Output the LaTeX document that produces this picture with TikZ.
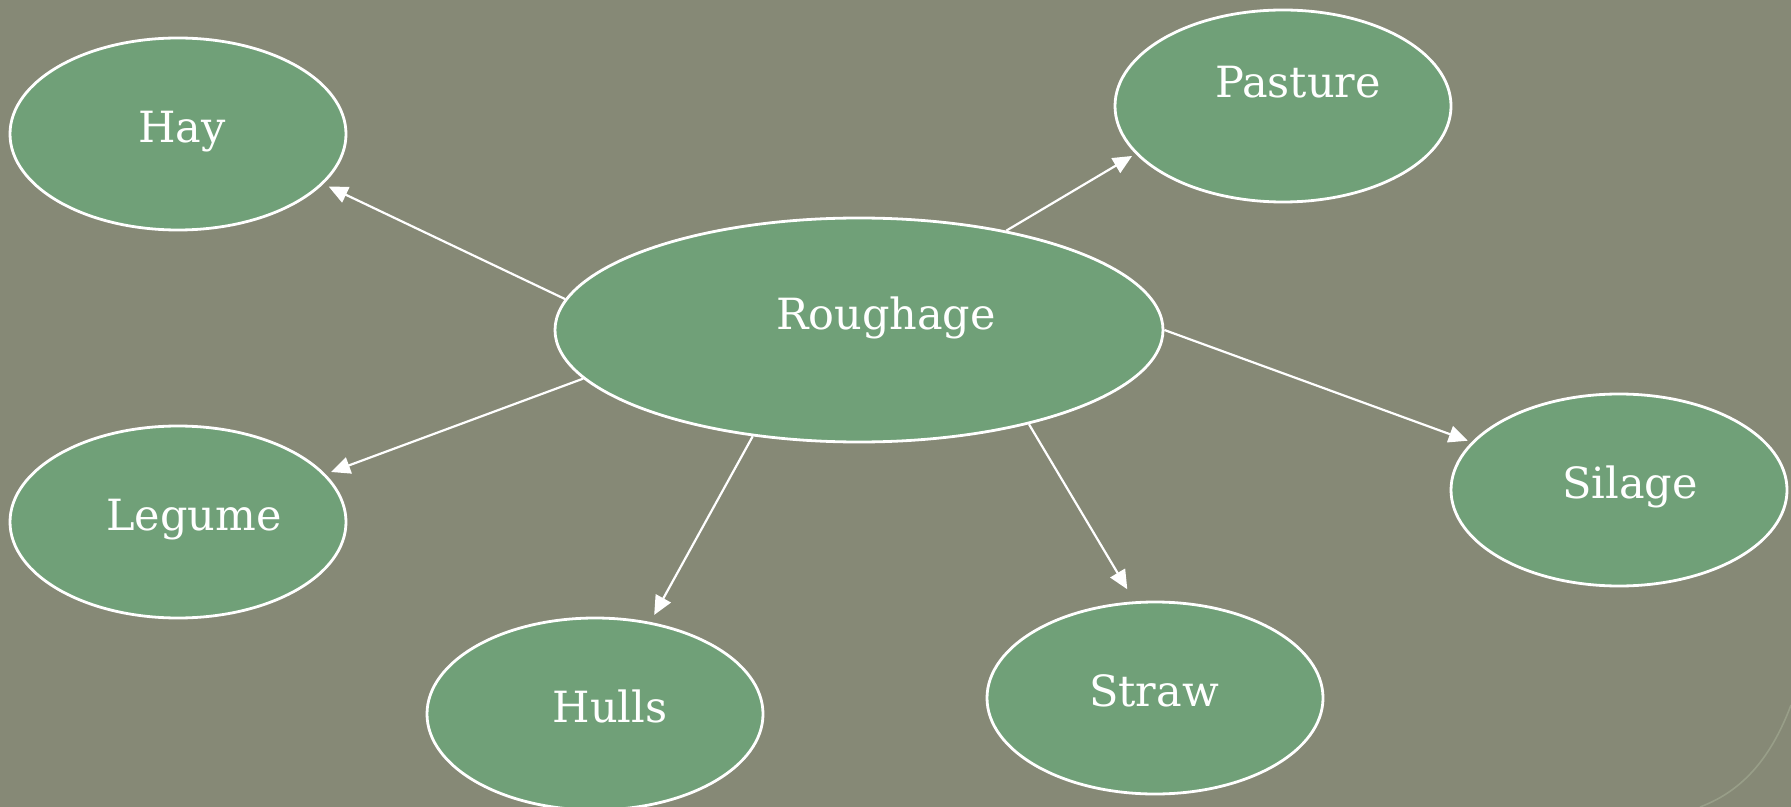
\documentclass[tikz,border=0pt]{standalone}
\usepackage{fontspec}
\setmainfont{DejaVu Serif}
\usetikzlibrary{shapes.geometric,arrows.meta}
\definecolor{bgcol}{RGB}{134,137,118}
\definecolor{arccol}{RGB}{152,158,136}
\definecolor{ovalfill}{RGB}{112,160,120}
\tikzset{
  oval/.style={ellipse, draw=white, line width=1.4pt, fill=ovalfill,
    minimum width=168pt, minimum height=96pt, inner sep=0pt},
  lbl/.style={text=white, font=\fontsize{21.5}{26}\selectfont, text height=0.72em, text depth=0pt, inner sep=0pt},
  conn/.style={draw=white, line width=1.1pt, -{Triangle[length=9.5pt,width=8.5pt]}}
}
\begin{document}
\begin{tikzpicture}[x=0.5pt,y=-0.5pt]
\useasboundingbox (0,0) rectangle (1791,807);
\fill[bgcol] (0,0) rectangle (1791,807);
\draw[arccol, line width=0.8pt] (1791,705) .. controls (1772,755) and (1745,790) .. (1700,807);

\node[oval] (hay) at (178,134) {};
\node[oval] (pasture) at (1283,106) {};
\node[oval, minimum width=304pt, minimum height=112pt] (rough) at (859,330) {};
\node[oval] (legume) at (178,522) {};
\node[oval] (silage) at (1619,490) {};
\node[oval] (hulls) at (595,714) {};
\node[oval] (straw) at (1155,698) {};

\node[lbl] (thay) at (182,135) {Hay};
\node[lbl] (tpasture) at (1298,90) {Pasture};
\node[lbl] (trough) at (886,322) {Roughage};
\node[lbl] (tlegume) at (194,523) {Legume};
\node[lbl] (tsilage) at (1630,491) {Silage};
\node[lbl] (thulls) at (610,715) {Hulls};
\node[lbl] (tstraw) at (1154,699) {Straw};

\draw[conn, shorten >=3pt] (rough.174) -- (hay.-19);
\draw[conn, shorten >=2pt] (rough.34) -- (pasture.-162);
\draw[conn, shorten >=2pt] (rough.0) -- (silage.162);
\draw[conn, shorten >=7pt] (rough.-29) -- (straw.102);
\draw[conn, shorten >=4pt] (rough.-135) -- (hulls.59);
\draw[conn, shorten >=3pt] (rough.-170) -- (legume.18);
\end{tikzpicture}
\end{document}
